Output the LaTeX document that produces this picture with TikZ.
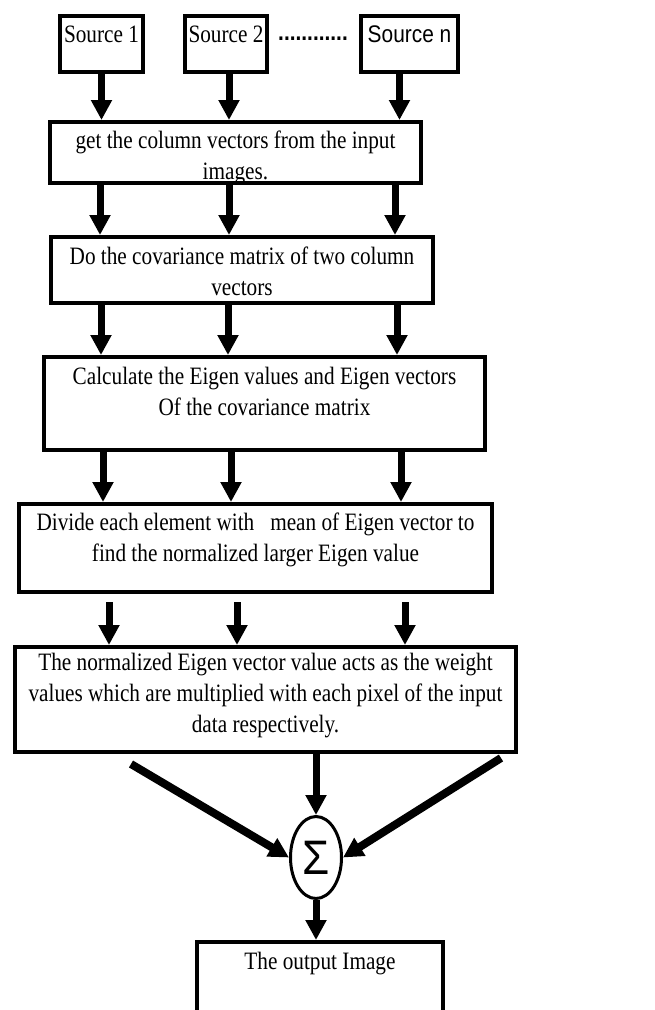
\documentclass[tikz,border=0pt]{standalone}
\usepackage{fontspec}
\setmainfont{Liberation Serif}[FakeStretch=0.85]
\newfontfamily\arial{Liberation Sans}[FakeStretch=0.87]
\newfontfamily\sumfont{Liberation Sans}
\usetikzlibrary{shapes.geometric, arrows.meta}
\tikzstyle{process} = [
    rectangle,
    anchor=north,
    align=flush center,
    inner sep=0pt,
    line width=4pt,
    draw=black,
    font=\fontsize{25}{31}\selectfont
]
\tikzstyle{source} = [
    process,
    text height=26pt,
    text depth=30pt
]
\tikzstyle{sumnode} = [
    ellipse,
    minimum width=51pt,
    minimum height=82pt,
    inner sep=0pt,
    line width=3pt,
    draw=black
]
\tikzstyle{arrow} = [line width=7pt,-{Triangle[width=20pt,length=20pt]}]

\begin{document}
\begin{tikzpicture}[x=1pt, y=-1pt]
\useasboundingbox (0,0) rectangle (654,1010);

\node (src1) [source, text width=83pt] at (101.5,14) {Source 1};

\node (src2) [source, text width=82pt] at (226,14) {Source 2};

\node (srcn) [source, text width=97pt] at (409.5,14) {\arial\fontsize{24}{24}\selectfont Source n};

\node (dots) [anchor=base, inner sep=0pt, font=\arial\bfseries\fontsize{24}{24}\selectfont] at (313,40) {............};

\node (get) [process, text width=371pt, text height=26pt, text depth=35pt] at (235.5,120)
{get the column vectors from the input\\images.};

\node (covar) [process, text width=382pt, text height=27pt, text depth=39pt] at (242,235)
{Do the covariance matrix of two column\\vectors};

\node (eigen) [process, text width=441pt, text height=27pt, text depth=66pt] at (264.5,355)
{Calculate the Eigen values and Eigen vectors\\Of the covariance matrix};

\node (divide) [process, text width=473pt, text height=26pt, text depth=62pt] at (255.5,502)
{Divide each element with \ \ mean of Eigen vector to\\find the normalized larger Eigen value};

\node (weight) [process, text width=501pt, text height=23pt, text depth=82pt] at (265.5,645)
{The normalized Eigen vector value acts as the weight\\values which are multiplied with each pixel of the input\\data respectively.};

\node (sigma) [sumnode] at (316,857.5)
{\sumfont\fontsize{44}{44}\selectfont\scalebox{1}[1.1]{Σ}};

\node (out) [process, text width=246pt, text height=27pt, text depth=43pt] at (320,940)
{The output Image};

\draw [arrow] (src1.south) -- (src1.south |- get.north);
\draw [arrow] ([xshift=3pt]src2.south) -- ([xshift=3pt]src2.south |- get.north);
\draw [arrow] ([xshift=-10pt]srcn.south) -- ([xshift=-10pt]srcn.south |- get.north);

\foreach \dx in {52,181,347}
    \draw [arrow] ([xshift=\dx pt]get.south west) -- ([xshift=\dx pt]get.south west |- covar.north);

\foreach \dx in {52,179,348}
    \draw [arrow] ([xshift=\dx pt]covar.south west) -- ([xshift=\dx pt]covar.south west |- eigen.north);

\foreach \dx in {61,189,359}
    \draw [arrow] ([xshift=\dx pt]eigen.south west) -- ([xshift=\dx pt]eigen.south west |- divide.north);

\foreach \dx in {92,220,388}
    \draw [arrow] ([shift={(\dx pt,-8pt)}]divide.south west) -- ([xshift=\dx pt]divide.south west |- weight.north);

\draw [arrow, line width=8pt] ([shift={(118pt,-10pt)}]weight.south west) -- (sigma.west);
\draw [arrow] (weight.south -| sigma.north) -- (sigma.north);
\draw [arrow, line width=8pt] ([shift={(488pt,-4pt)}]weight.south west) -- (sigma.east);

\draw [arrow] (sigma.south) -- (sigma.south |- out.north);

\end{tikzpicture}
\end{document}
